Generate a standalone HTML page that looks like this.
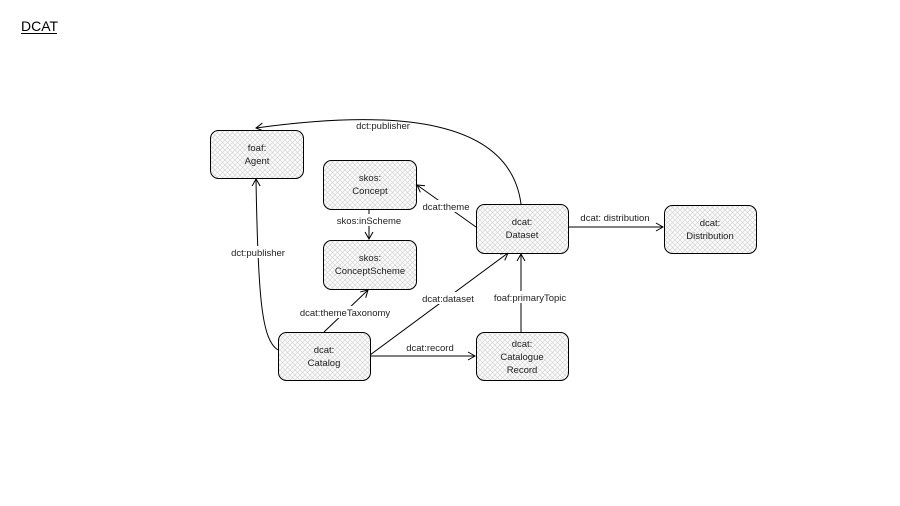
<!DOCTYPE html>
<html><head><meta charset="utf-8"><style>
html,body{margin:0;padding:0;background:#fff;width:900px;height:506px;overflow:hidden}
svg{display:block}
text{font-family:"Liberation Sans",sans-serif;font-size:9.5px;fill:#222}
</style></head><body>
<svg width="900" height="506" viewBox="0 0 900 506">
<defs>
<pattern id="h" width="5" height="5" patternUnits="userSpaceOnUse">
<rect width="5" height="5" fill="#fbfbfb"/>
<path d="M0,0L5,5M5,0L0,5" stroke="#cfcfcf" stroke-width="0.6"/>
</pattern>
<marker id="a" markerWidth="10" markerHeight="10" refX="8" refY="5" orient="auto" markerUnits="userSpaceOnUse">
<path d="M1,1L8,5L1,9" fill="none" stroke="#000" stroke-width="1"/>
</marker>
</defs>
<text x="21" y="31" style="font-size:14px;fill:#000">DCAT</text>
<line x1="21" y1="33.5" x2="57" y2="33.5" stroke="#000" stroke-width="1"/>
<g fill="none" stroke="#000" stroke-width="1">
<path d="M521,204 C510,120 400,108 256,128" marker-end="url(#a)"/>
<path d="M278,350 C262,340 258,300 256,179" marker-end="url(#a)"/>
<line x1="369" y1="209" x2="369" y2="239" marker-end="url(#a)"/>
<line x1="324" y1="332" x2="368" y2="290" marker-end="url(#a)"/>
<line x1="476" y1="227" x2="417" y2="185" marker-end="url(#a)"/>
<line x1="370" y1="355" x2="508" y2="253" marker-end="url(#a)"/>
<line x1="370" y1="356" x2="475" y2="356" marker-end="url(#a)"/>
<line x1="521" y1="332" x2="521" y2="254" marker-end="url(#a)"/>
<line x1="568" y1="227" x2="663" y2="227" marker-end="url(#a)"/>
</g>
<g fill="url(#h)" stroke="#000" stroke-width="1">
<rect x="210.5" y="130.5" width="93" height="48" rx="8"/>
<rect x="323.5" y="160.5" width="93" height="49" rx="8"/>
<rect x="323.5" y="240.5" width="93" height="49" rx="8"/>
<rect x="476.5" y="204.5" width="92" height="49" rx="8"/>
<rect x="664.5" y="205.5" width="92" height="48" rx="8"/>
<rect x="278.5" y="332.5" width="92" height="48" rx="8"/>
<rect x="476.5" y="332.5" width="92" height="48" rx="8"/>
</g>
<g text-anchor="middle">
<text x="257" y="151">foaf:</text><text x="257" y="164">Agent</text>
<text x="370" y="181">skos:</text><text x="370" y="194">Concept</text>
<text x="370" y="261">skos:</text><text x="370" y="274">ConceptScheme</text>
<text x="522" y="225">dcat:</text><text x="522" y="238">Dataset</text>
<text x="710" y="226">dcat:</text><text x="710" y="239">Distribution</text>
<text x="324" y="353">dcat:</text><text x="324" y="366">Catalog</text>
<text x="522" y="347">dcat:</text><text x="522" y="360">Catalogue</text><text x="522" y="373">Record</text>
</g>
<g text-anchor="middle">
<rect x="340" y="214" width="60" height="12" fill="#fff"/>
<text x="369" y="224">skos:inScheme</text>
<rect x="418" y="200" width="56" height="12" fill="#fff"/>
<text x="446" y="210">dcat:theme</text>
<rect x="226" y="246" width="63" height="12" fill="#fff"/>
<text x="258" y="256">dct:publisher</text>
<rect x="295" y="306" width="100" height="12" fill="#fff"/>
<text x="345" y="316">dcat:themeTaxonomy</text>
<rect x="418" y="292" width="60" height="12" fill="#fff"/>
<text x="448" y="302">dcat:dataset</text>
<rect x="488" y="291" width="84" height="12" fill="#fff"/>
<text x="530" y="301">foaf:primaryTopic</text>
<text x="430" y="351">dcat:record</text>
<text x="383" y="129">dct:publisher</text>
<text x="615" y="221">dcat: distribution</text>
</g>
</svg>
</body></html>
